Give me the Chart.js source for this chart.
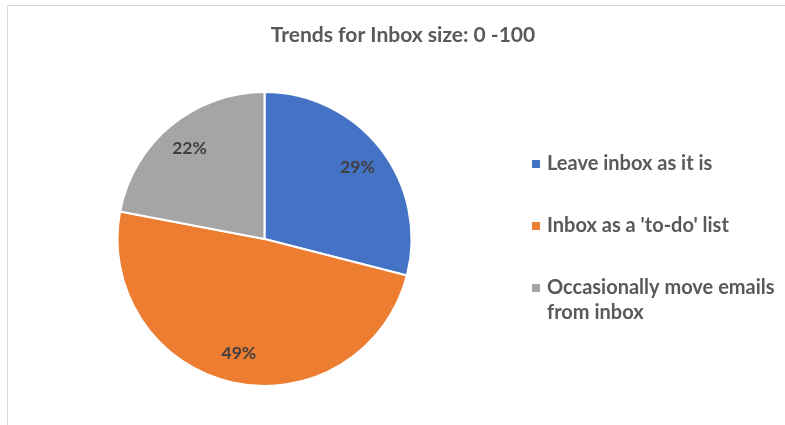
<!DOCTYPE html>
<html>
<head>
<meta charset="utf-8">
<script src="https://cdn.jsdelivr.net/npm/chart.js@4"></script>
<style>
  html, body { margin: 0; padding: 0; background: #fff; }
  #wrap { position: relative; width: 785px; height: 425px; }
  #frame { position: absolute; left: 7px; top: 5px; right: -2px; bottom: -2px;
           border-left: 1px solid #d9d9d9; border-top: 1px solid #d9d9d9; }
  canvas { position: absolute; left: 0; top: 0; }
</style>
</head>
<body>
<div id="wrap">
  <div id="frame"></div>
  <canvas id="build-graph" width="785" height="425"></canvas>
</div>
<script>
const titulo = 'Trends for Inbox size: 0 -100';
const categorias = ['Leave inbox as it is', "Inbox as a 'to-do' list", 'Occasionally move emails from inbox'];
const legendaLinhas = [['Leave inbox as it is'], ["Inbox as a 'to-do' list"], ['Occasionally move emails', 'from inbox']];
const valores = [29, 49, 22];
const cores = ['#4472c4', '#ed7d31', '#a5a5a5'];

const fonte = 'Lato, "Open Sans", sans-serif';

// rotulos de porcentagem dentro das fatias
const rotulos = {
    id: 'rotulos',
    afterDatasetsDraw(chart) {
        let ctx = chart.ctx;
        let meta = chart.getDatasetMeta(0);
        ctx.save();
        ctx.font = 'bold 17.5px ' + fonte;
        ctx.fillStyle = '#404040';
        ctx.textAlign = 'center';
        ctx.textBaseline = 'middle';
        meta.data.forEach((arc, i) => {
            let meio = (arc.startAngle + arc.endAngle) / 2;
            let r = arc.outerRadius * 0.8;
            ctx.fillText(valores[i] + '%', arc.x + Math.cos(meio) * r, arc.y + Math.sin(meio) * r);
        });
        ctx.restore();
    }
};

// titulo e legenda desenhados a mao (legenda quebra linha)
const legenda = {
    id: 'legenda',
    afterDraw(chart) {
        let ctx = chart.ctx;
        ctx.save();
        ctx.textBaseline = 'middle';
        ctx.fillStyle = '#595959';
        ctx.font = 'bold 21px ' + fonte;
        ctx.textAlign = 'center';
        ctx.fillText(titulo, 403, 35);

        ctx.textAlign = 'left';
        ctx.font = 'bold 20px ' + fonte;
        let ys = [164, 226, 288];
        legendaLinhas.forEach((linhas, i) => {
            ctx.fillStyle = cores[i];
            ctx.fillRect(532, ys[i] - 4, 8, 8);
            ctx.fillStyle = '#595959';
            linhas.forEach((t, j) => ctx.fillText(t, 547, ys[i] + j * 25));
        });
        ctx.restore();
    }
};

CreateGraph('build-graph');

function CreateGraph(canva){
    let ctx = document.getElementById(canva);
    new Chart(ctx, {
        type: 'pie',
        data: {
            labels: categorias,
            datasets: [{
                data: valores,
                backgroundColor: cores,
                borderColor: '#ffffff',
                borderWidth: 2
            }]
        },
        options: {
            responsive: false,
            animation: false,
            layout: { padding: { left: 116, right: 372, top: 91, bottom: 38 } },
            plugins: {
                legend: { display: false },
                tooltip: { enabled: false },
                title: { display: false }
            }
        },
        plugins: [rotulos, legenda]
    });
}
</script>
</body>
</html>
